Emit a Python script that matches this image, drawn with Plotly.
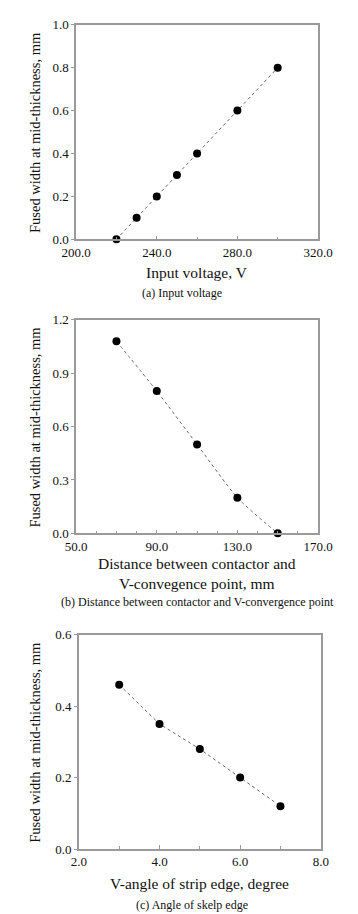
import plotly.graph_objects as go

# Panel (a)
volt_x = [220, 230, 240, 250, 260, 280, 300]
volt_y = [0.0, 0.1, 0.2, 0.3, 0.4, 0.6, 0.8]
# Panel (b)
dist_x = [70, 90, 110, 130, 150]
dist_y = [1.08, 0.80, 0.50, 0.20, 0.0]
# Panel (c)
ang_x = [3, 4, 5, 6, 7]
ang_y = [0.46, 0.35, 0.28, 0.20, 0.12]

y_title = "Fused width at mid-thickness, mm"
x_titles = ["Input voltage, V",
            "Distance between contactor and<br>V-convegence point, mm",
            "V-angle of strip edge, degree"]
captions = ["(a) Input voltage",
            "(b) Distance between contactor and V-convergence point",
            "(c) Angle of skelp edge"]

W, H = 358, 914
FONT = "Liberation Serif"
FRAME = "#9a9a9a"

def px_x(p):
    return p / W

def px_y(p):
    return 1 - p / H

panels = [
    dict(x=volt_x, y=volt_y, xr=[200, 320], xd=40, xm=20, yr=[0, 1.0], yd=0.2,
         box=(58, 322, 10, 228), shape="linear", tick=242, title=[262], cap=(174, 283)),
    dict(x=dist_x, y=dist_y, xr=[50, 170], xd=40, xm=10, yr=[0, 1.2], yd=0.3,
         box=(58, 322, 310, 527), shape="spline", tick=542, title=[568], cap=(190, 597)),
    dict(x=ang_x, y=ang_y, xr=[2, 8], xd=2, xm=1, yr=[0, 0.6], yd=0.2,
         box=(61, 325, 630, 848), shape="linear", tick=866, title=[883], cap=(185, 905)),
]

fig = go.Figure()
annotations = []
for i, p in enumerate(panels):
    n = "" if i == 0 else str(i + 1)
    x0, x1, y0, y1 = p["box"]
    fig.add_trace(go.Scatter(
        x=p["x"], y=p["y"], mode="lines+markers",
        line=dict(color="#666666", width=1, dash="dot", shape=p["shape"], smoothing=0.6),
        marker=dict(color="black", size=8),
        xaxis="x" + n, yaxis="y" + n, showlegend=False, cliponaxis=False))
    fig.update_layout(**{
        "xaxis" + n: dict(
            domain=[px_x(x0), px_x(x1)], range=p["xr"], dtick=p["xd"], tick0=p["xr"][0],
            tickformat=".1f", ticks="inside", ticklen=4, tickcolor=FRAME,
            minor=dict(dtick=p["xm"], ticks="inside", ticklen=3, tickcolor=FRAME),
            showline=True, linecolor=FRAME, linewidth=1.5, mirror=True,
            showgrid=False, zeroline=False, anchor="y" + n,
            tickfont=dict(family=FONT, size=13, color="#111"),
            fixedrange=True),
        "yaxis" + n: dict(
            domain=[px_y(y1), px_y(y0)], range=p["yr"], dtick=p["yd"], tick0=0,
            tickformat=".1f", ticks="outside", ticklen=3, tickcolor=FRAME,
            showline=True, linecolor=FRAME, linewidth=1.5, mirror=True,
            showgrid=False, zeroline=False, anchor="x" + n,
            tickfont=dict(family=FONT, size=13, color="#111"),
            fixedrange=True),
    })
    annotations.append(dict(
        text=y_title, x=px_x(13), y=px_y((y0 + y1) / 2), xref="paper", yref="paper",
        textangle=-90, showarrow=False, xanchor="center", yanchor="middle",
        font=dict(family=FONT, size=14.5, color="#111")))
    annotations.append(dict(
        text=x_titles[i], x=px_x((x0 + x1) / 2), y=px_y(p["title"][0]),
        xref="paper", yref="paper", showarrow=False, xanchor="center", yanchor="middle",
        font=dict(family=FONT, size=15.5, color="#111")))
    annotations.append(dict(
        text=captions[i], x=px_x(p["cap"][0]), y=px_y(p["cap"][1]),
        xref="paper", yref="paper", showarrow=False, xanchor="center", yanchor="middle",
        font=dict(family=FONT, size=12, color="#111")))

fig.update_layout(
    width=W, height=H, margin=dict(l=0, r=0, t=0, b=0),
    paper_bgcolor="white", plot_bgcolor="white",
    annotations=annotations,
)

fig.write_html("out.html", config={"displayModeBar": False})
